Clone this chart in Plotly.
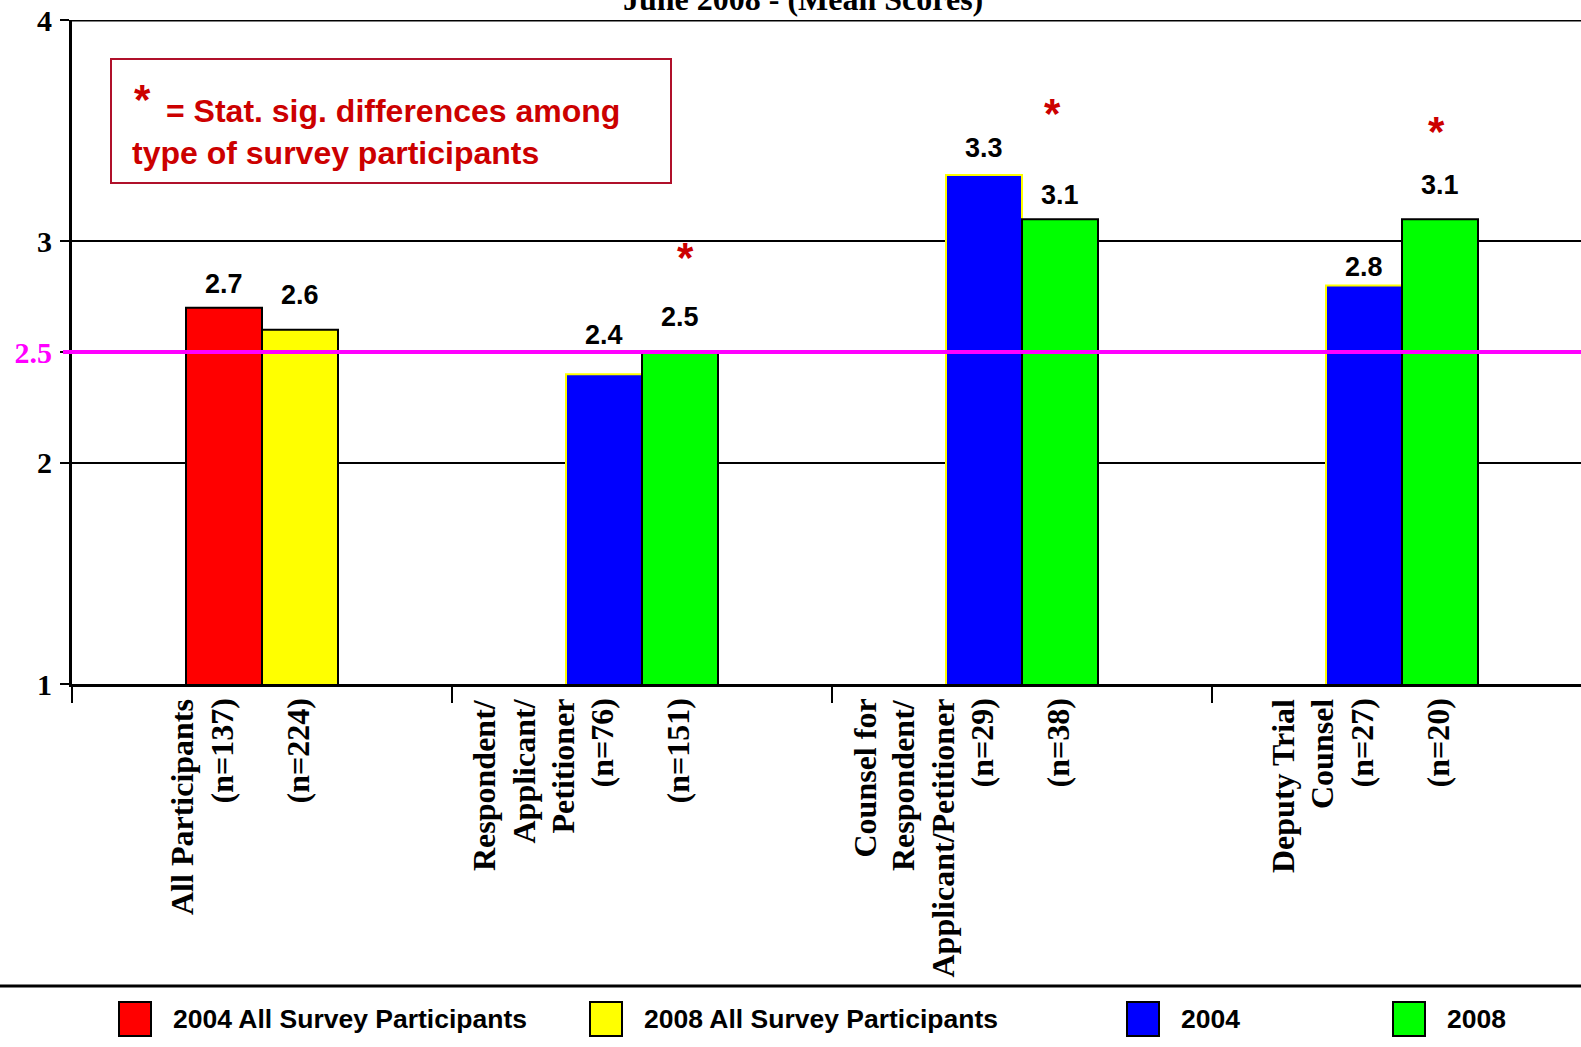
import plotly.graph_objects as go

# ---- data -------------------------------------------------------------
categories = [
    "All Participants",
    "Respondent/Applicant/Petitioner",
    "Counsel for Respondent/Applicant/Petitioner",
    "Deputy Trial Counsel",
]
all_2004 = [2.7]                 # 2004 All Survey Participants
all_2008 = [2.6]                 # 2008 All Survey Participants
group_2004 = [2.4, 3.3, 2.8]     # 2004, by participant type
group_2008 = [2.5, 3.1, 3.1]     # 2008, by participant type

name_lines = [
    ["All Participants"],
    ["Respondent/", "Applicant/", "Petitioner"],
    ["Counsel for", "Respondent/", "Applicant/Petitioner"],
    ["Deputy Trial", "Counsel"],
]
n_first = ["(n=137)", "(n=76)", "(n=29)", "(n=27)"]
n_second = ["(n=224)", "(n=151)", "(n=38)", "(n=20)"]

sig_categories = [1, 2, 3]       # statistically significant differences
benchmark = 2.5
y_ticks = [1, 2, 3, 4]

legend_names = ["2004 All Survey Participants", "2008 All Survey Participants", "2004", "2008"]
legend_colors = ["#FF0000", "#FFFF00", "#0000FF", "#00FF00"]

# ---- geometry ---------------------------------------------------------
W, H = 1581, 1047
ML, MR, MT, MB = 72, 0, 20, 363
PW, PH = W - ML - MR, H - MT - MB
CAT_PX = 380                      # pixel width of one category slot
X_RANGE = [-0.5, -0.5 + PW / CAT_PX]
BAR_HALF = 0.1                    # half of a bar width in category units

SERIF = "Liberation Serif"
SANS = "Liberation Sans"
RED_TXT = "#CC0000"


def px_x(px):
    return (px - ML) / PW


def px_y(py):
    return (H - MB - py) / PH


fig = go.Figure()

fig.add_trace(go.Bar(x=categories[:1], y=all_2004, name=legend_names[0], offsetgroup="a",
                     marker=dict(color=legend_colors[0], line=dict(color="black", width=2))))
fig.add_trace(go.Bar(x=categories[:1], y=all_2008, name=legend_names[1], offsetgroup="b",
                     marker=dict(color=legend_colors[1], line=dict(color="black", width=2))))
fig.add_trace(go.Bar(x=categories[1:], y=group_2004, name=legend_names[2], offsetgroup="a",
                     marker=dict(color=legend_colors[2], line=dict(color="#FFFF00", width=2))))
fig.add_trace(go.Bar(x=categories[1:], y=group_2008, name=legend_names[3], offsetgroup="b",
                     marker=dict(color=legend_colors[3], line=dict(color="black", width=2))))

annotations = []
shapes = []

# value labels above each bar
first_vals = all_2004 + group_2004
second_vals = all_2008 + group_2008
lift_first = [7, 22, 10, 2]
lift_second = [18, 18, 7, 17]
for i in range(len(categories)):
    for val, side, lift in ((first_vals[i], -1, lift_first[i]), (second_vals[i], 1, lift_second[i])):
        annotations.append(dict(
            x=i + side * BAR_HALF, y=val, xref="x", yref="y",
            text=f"{val:.1f}", showarrow=False, xanchor="center", yanchor="bottom",
            yshift=lift, font=dict(family=SANS, size=27, color="black", weight="bold")))

# significance asterisks
star_y = [2.95, 3.60, 3.52]
star_dx = [5, -8, -4]
for k, ci in enumerate(sig_categories):
    annotations.append(dict(
        x=ci + BAR_HALF, y=star_y[k], xref="x", yref="y", text="*", showarrow=False,
        xanchor="center", yanchor="middle", xshift=star_dx[k], yshift=-5,
        font=dict(family=SANS, size=42, color=RED_TXT, weight="bold")))

# rotated category labels below the axis
LINE_STEP = 39
label_font = dict(family=SERIF, size=32, color="black", weight="bold")
for i in range(len(categories)):
    first_block = name_lines[i] + [n_first[i]]
    blocks = [(i - BAR_HALF, first_block), (i + BAR_HALF, [n_second[i]])]
    for xc, lines in blocks:
        for j, line in enumerate(reversed(lines)):
            annotations.append(dict(
                x=xc, y=0, xref="x", yref="paper", text=line, showarrow=False,
                textangle=-90, xanchor="center", yanchor="top",
                xshift=-j * LINE_STEP - 3, yshift=-13, font=label_font))

# chart title (runs off the top edge)
annotations.append(dict(
    x=px_x(803), y=px_y(-1), xref="paper", yref="paper",
    text="June 2008 - (Mean Scores)", showarrow=False, xanchor="center", yanchor="middle",
    font=dict(family=SERIF, size=32, color="black", weight="bold")))

# significance note box
shapes.append(dict(type="rect", xref="paper", yref="paper",
                   x0=px_x(111), x1=px_x(671), y0=px_y(183), y1=px_y(59),
                   line=dict(color="#B0102A", width=2), fillcolor="white", layer="above"))
annotations.append(dict(x=px_x(142), y=px_y(99), xref="paper", yref="paper", text="*",
                        showarrow=False, xanchor="center", yanchor="middle",
                        font=dict(family=SANS, size=42, color=RED_TXT, weight="bold")))
annotations.append(dict(x=px_x(164), y=px_y(111), xref="paper", yref="paper",
                        text="= Stat. sig. differences among", showarrow=False,
                        xanchor="left", yanchor="middle",
                        font=dict(family=SANS, size=32, color=RED_TXT, weight="bold")))
annotations.append(dict(x=px_x(130), y=px_y(153), xref="paper", yref="paper",
                        text="type of survey participants", showarrow=False,
                        xanchor="left", yanchor="middle",
                        font=dict(family=SANS, size=32, color=RED_TXT, weight="bold")))

# top frame line and benchmark line
shapes.append(dict(type="line", xref="paper", yref="y", x0=0, x1=1, y0=4, y1=4,
                   line=dict(color="black", width=3)))
shapes.append(dict(type="line", xref="paper", yref="y", x0=px_x(63), x1=1,
                   y0=benchmark, y1=benchmark, line=dict(color="#FF00FF", width=4),
                   layer="above"))

# legend strip
shapes.append(dict(type="line", xref="paper", yref="paper", x0=px_x(0), x1=px_x(W),
                   y0=px_y(986), y1=px_y(986), line=dict(color="black", width=3)))
swatch_left = [119, 590, 1127, 1393]
for name, color, sx in zip(legend_names, legend_colors, swatch_left):
    shapes.append(dict(type="rect", xref="paper", yref="paper",
                       x0=px_x(sx), x1=px_x(sx + 32), y0=px_y(1036), y1=px_y(1002),
                       fillcolor=color, line=dict(color="black", width=2)))
    annotations.append(dict(x=px_x(sx + 52), y=px_y(1019), xref="paper", yref="paper",
                            text=name, showarrow=False, xanchor="left", yanchor="middle",
                            font=dict(family=SANS, size=26.5, color="black", weight="bold")))

tick_vals = sorted(y_ticks + [benchmark])
tick_text = [f'<b><span style="color:#FF00FF">{v}</span></b>' if v == benchmark
             else f"<b>{int(v)}</b>" for v in tick_vals]

fig.update_layout(
    width=W, height=H,
    margin=dict(l=ML, r=MR, t=MT, b=MB, pad=0),
    paper_bgcolor="white", plot_bgcolor="white",
    barmode="group", bargap=0.6, bargroupgap=0,
    showlegend=False,
    xaxis=dict(type="category", categoryorder="array", categoryarray=categories,
               range=X_RANGE, showline=True, linecolor="black", linewidth=3,
               ticks="outside", tickson="boundaries", ticklen=16, tickwidth=2,
               tickcolor="black", showticklabels=False, showgrid=False, zeroline=False),
    yaxis=dict(range=[1, 4], tickvals=tick_vals, ticktext=tick_text,
               showline=True, linecolor="black", linewidth=3,
               ticks="outside", ticklen=9, tickwidth=2, tickcolor="black",
               showgrid=True, gridcolor="black", gridwidth=2, zeroline=False,
               ticklabelstandoff=2,
               tickfont=dict(family=SERIF, size=30, color="black", weight="bold")),
    annotations=annotations,
    shapes=shapes,
)

fig.write_html("out.html", config={"displayModeBar": False})
